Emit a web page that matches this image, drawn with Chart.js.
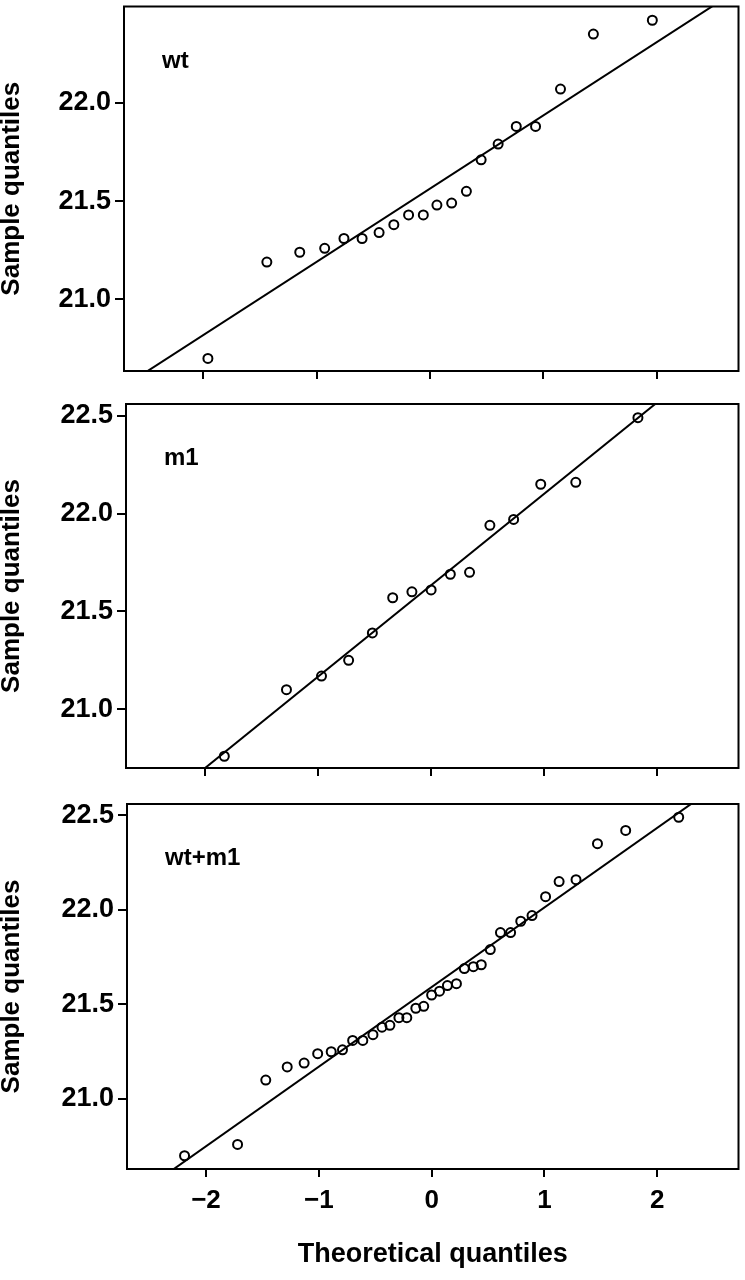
<!DOCTYPE html>
<html><head><meta charset="utf-8">
<script src="https://cdn.jsdelivr.net/npm/chart.js@4.4.1/dist/chart.umd.min.js"></script>
<style>
html,body{margin:0;padding:0;background:#fff;}
body{width:745px;height:1280px;position:relative;overflow:hidden;}
canvas{position:absolute;left:0;}
</style></head><body>
<canvas id="c1" width="745" height="395" style="top:0px"></canvas>
<canvas id="c2" width="745" height="395" style="top:395px"></canvas>
<canvas id="c3" width="745" height="490" style="top:790px"></canvas>
<script>
// ---- data ----
const panelLabels = ['wt', 'm1', 'wt+m1'];

const wtTheoretical = [-1.96, -1.44, -1.15, -0.93, -0.76, -0.60, -0.45, -0.32, -0.19, -0.06,
                        0.06, 0.19, 0.32, 0.45, 0.60, 0.76, 0.93, 1.15, 1.44, 1.96];
const wtSample = [20.70, 21.19, 21.24, 21.26, 21.31, 21.31, 21.34, 21.38, 21.43, 21.43,
                  21.48, 21.49, 21.55, 21.71, 21.79, 21.88, 21.88, 22.07, 22.35, 22.42];

const m1Theoretical = [-1.83, -1.28, -0.97, -0.73, -0.52, -0.34, -0.17, 0.00,
                        0.17, 0.34, 0.52, 0.73, 0.97, 1.28, 1.83];
const m1Sample = [20.76, 21.10, 21.17, 21.25, 21.39, 21.57, 21.60, 21.61,
                  21.69, 21.70, 21.94, 21.97, 22.15, 22.16, 22.49];

const allTheoretical = [-2.19, -1.72, -1.47, -1.28, -1.13, -1.01, -0.89, -0.79, -0.70, -0.61,
                        -0.52, -0.44, -0.37, -0.29, -0.22, -0.14, -0.07, 0.00, 0.07, 0.14,
                         0.22, 0.29, 0.37, 0.44, 0.52, 0.61, 0.70, 0.79, 0.89, 1.01,
                         1.13, 1.28, 1.47, 1.72, 2.19];
const allSample = [20.70, 20.76, 21.10, 21.17, 21.19, 21.24, 21.25, 21.26, 21.31, 21.31,
                   21.34, 21.38, 21.39, 21.43, 21.43, 21.48, 21.49, 21.55, 21.57, 21.60,
                   21.61, 21.69, 21.70, 21.71, 21.79, 21.88, 21.88, 21.94, 21.97, 22.07,
                   22.15, 22.16, 22.35, 22.42, 22.49];

// reference lines: [intercept, slope]
const wtLine = [21.564, 0.3725];
const m1Line = [21.634, 0.467];
const allLine = [21.592, 0.421];

// axis ranges
const xRange = [-2.70, 2.72];
const wtYRange = [20.636, 22.49];
const m1YRange = [20.70, 22.56];
const allYRange = [20.63, 22.56];

const xTicks = [-2, -1, 0, 1, 2];
const yTicks = [21.0, 21.5, 22.0, 22.5];
const xTitle = 'Theoretical quantiles';
const yTitle = 'Sample quantiles';

// ---- drawing ----
const FONT = "'Liberation Sans', Arial, Helvetica, sans-serif";

const boxPlugin = {
  id: 'box',
  afterDatasetsDraw(chart) {
    const {ctx, chartArea: a} = chart;
    ctx.save();
    ctx.strokeStyle = '#000';
    ctx.lineWidth = 2;
    ctx.strokeRect(a.left, a.top, a.right - a.left, a.bottom - a.top);
    ctx.restore();
  }
};

const labelPlugin = {
  id: 'panelLabel',
  afterDraw(chart, args, opts) {
    const {ctx, chartArea: a} = chart;
    ctx.save();
    ctx.fillStyle = '#000';
    ctx.font = 'bold 24px ' + FONT;
    ctx.textAlign = 'left';
    ctx.textBaseline = 'alphabetic';
    ctx.fillText(opts.text, a.left + opts.dx, a.top + opts.dy);
    ctx.restore();
  }
};

function noPad(s) { s.paddingLeft = 0; s.paddingRight = 0; s.paddingTop = 0; s.paddingBottom = 0; }

function makePanel(id, label, theo, sample, line, yRange, lay, bottomPanel) {
  const pts = theo.map((x, i) => ({x: x, y: sample[i]}));
  const linePts = xRange.map(x => ({x: x, y: line[0] + line[1] * x}));
  new Chart(document.getElementById(id), {
    type: 'scatter',
    data: {
      datasets: [
        {
          type: 'line', data: linePts, showLine: true, borderColor: '#000',
          borderWidth: 2, pointRadius: 0, fill: false, clip: 0, order: 2
        },
        {
          data: pts, pointStyle: 'circle', pointRadius: 4.5, borderWidth: 2,
          borderColor: '#000', backgroundColor: 'rgba(0,0,0,0)', clip: 0, order: 1
        }
      ]
    },
    options: {
      responsive: false,
      devicePixelRatio: 1,
      animation: false,
      events: [],
      layout: {padding: {top: lay.top, right: lay.right, left: 0, bottom: 0}},
      plugins: {
        legend: {display: false},
        tooltip: {enabled: false},
        panelLabel: {text: label, dx: 38, dy: 61}
      },
      scales: {
        x: {
          type: 'linear', min: xRange[0], max: xRange[1],
          afterBuildTicks: s => { s.ticks = xTicks.filter(v => v >= s.min && v <= s.max).map(v => ({value: v})); },
          afterFit: s => { s.height = lay.xh; noPad(s); },
          grid: {drawOnChartArea: false, drawTicks: true, tickLength: 8, color: '#000', lineWidth: 2},
          border: {display: false},
          ticks: {
            display: bottomPanel, color: '#000', padding: 8, maxRotation: 0,
            font: {family: FONT, size: 26, weight: 'bold'},
            callback: v => (v < 0 ? '\u2212' + Math.abs(v) : String(v))
          },
          title: {
            display: bottomPanel, text: xTitle, color: '#000',
            font: {family: FONT, size: 27, weight: 'bold'}, padding: {top: 0, bottom: 9}
          }
        },
        y: {
          type: 'linear', min: yRange[0], max: yRange[1],
          afterBuildTicks: s => { s.ticks = yTicks.filter(v => v >= s.min && v <= s.max).map(v => ({value: v})); },
          afterFit: s => { s.width = lay.left; noPad(s); },
          grid: {drawOnChartArea: false, drawTicks: true, tickLength: 9, color: '#000', lineWidth: 2},
          border: {display: false},
          ticks: {
            color: '#000', padding: 4,
            font: {family: FONT, size: 27, weight: 'bold'},
            callback: v => Number(v).toFixed(1)
          },
          title: {
            display: true, text: yTitle, color: '#000',
            font: {family: FONT, size: 26, weight: 'bold', lineHeight: 0.9}, padding: {top: 0, bottom: 0}
          }
        }
      }
    },
    plugins: [boxPlugin, labelPlugin]
  });
}

makePanel('c1', panelLabels[0], wtTheoretical, wtSample, wtLine, wtYRange,
          {top: 4, right: 4, left: 124, xh: 395 - 371}, false);
makePanel('c2', panelLabels[1], m1Theoretical, m1Sample, m1Line, m1YRange,
          {top: 9, right: 2, left: 126, xh: 395 - 373}, false);
makePanel('c3', panelLabels[2], allTheoretical, allSample, allLine, allYRange,
          {top: 14, right: 1, left: 127, xh: 490 - 379}, true);
</script>
</body></html>
